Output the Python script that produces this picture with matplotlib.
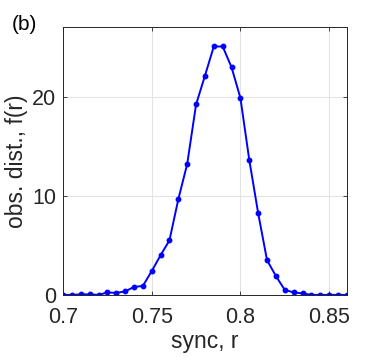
import matplotlib

matplotlib.use("Agg")
import matplotlib.pyplot as plt
import numpy as np

plt.rcParams["font.family"] = ["Liberation Sans", "DejaVu Sans"]

# sync bins, step 0.005 from 0.70 to 0.86
sync_r = np.round(np.arange(0.700, 0.8601, 0.005), 3)
obs_dist = [
    0.0, 0.0, 0.05, 0.05, 0.0, 0.25, 0.2, 0.35, 0.8, 0.9,
    2.4, 4.0, 5.5, 9.65, 13.2, 19.2, 22.1, 25.05, 25.05, 22.95,
    19.85, 13.6, 8.24, 3.5, 1.9, 0.5, 0.25, 0.15, 0.0, 0.0,
    0.0, 0.0, 0.0,
]
x_ticks = [0.7, 0.75, 0.8, 0.85]
x_tick_labels = ["0.7", "0.75", "0.8", "0.85"]
y_ticks = [0, 10, 20]

fig = plt.figure(figsize=(3.82, 3.57), dpi=100)
ax = fig.add_axes([0.165, 0.174, 0.743, 0.750])

ax.plot(sync_r, obs_dist, color="#0000ff", linewidth=1.4, marker="o", markersize=3.2)

ax.set_xlim(0.7, 0.86)
ax.set_ylim(0, 27)
ax.set_xticks(x_ticks)
ax.set_xticklabels(x_tick_labels)
ax.set_yticks(y_ticks)
ax.grid(True, color="#e3e3e3", linewidth=0.8)
ax.set_axisbelow(True)
ax.tick_params(direction="in", length=3, width=0.6, labelsize=15.5, colors="#262626",
               top=True, right=True)
ax.tick_params(axis="x", pad=9)
ax.tick_params(axis="y", pad=5)
for sp in ax.spines.values():
    sp.set_color("#262626")
    sp.set_linewidth(0.7)

ax.set_xlabel("sync, r", fontsize=16.5, color="#262626", labelpad=1)
ax.set_ylabel("obs. dist., f(r)", fontsize=16.5, color="#262626", labelpad=3)
fig.text(0.03, 0.915, "(b)", fontsize=15, color="#000000")

fig.savefig("out.png", dpi=100)
